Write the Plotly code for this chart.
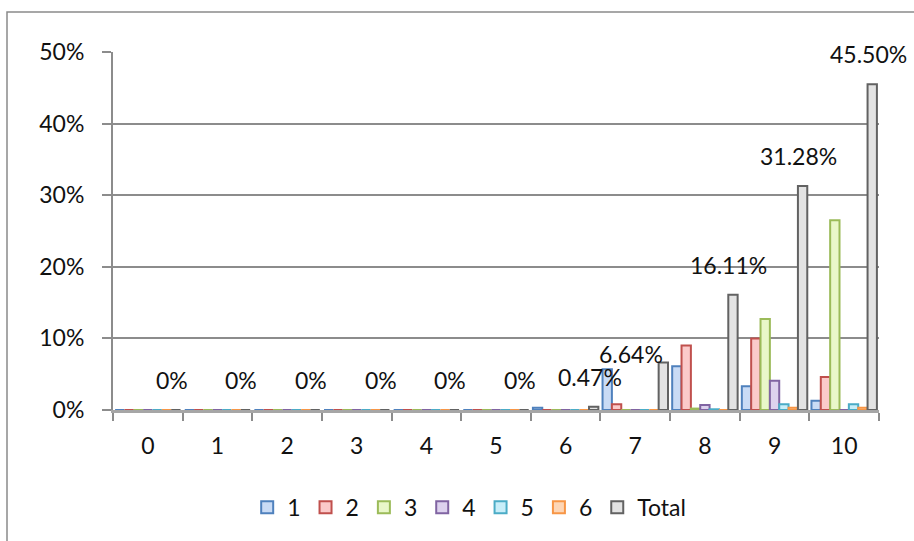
import plotly.graph_objects as go

# Score categories on the x axis
categories = ["0", "1", "2", "3", "4", "5", "6", "7", "8", "9", "10"]

# Share of responses (%) per group and score
group_1 = [0, 0, 0, 0, 0, 0, 0.3, 5.7, 6.1, 3.3, 1.3]
group_2 = [0, 0, 0, 0, 0, 0, 0, 0.8, 9.0, 10.0, 4.6]
group_3 = [0, 0, 0, 0, 0, 0, 0, 0, 0.2, 12.7, 26.5]
group_4 = [0, 0, 0, 0, 0, 0, 0, 0, 0.7, 4.1, 0]
group_5 = [0, 0, 0, 0, 0, 0, 0, 0, 0.1, 0.8, 0.8]
group_6 = [0, 0, 0, 0, 0, 0, 0, 0, 0, 0.3, 0.3]
total = [0, 0, 0, 0, 0, 0, 0.47, 6.64, 16.11, 31.28, 45.50]

series = [
    ("1", group_1, "#c9dbf5", "#4f81bd"),
    ("2", group_2, "#fbcaca", "#c0504d"),
    ("3", group_3, "#e9f7c9", "#9bbb59"),
    ("4", group_4, "#ddd2ee", "#8064a2"),
    ("5", group_5, "#c8eef9", "#4bacc6"),
    ("6", group_6, "#fdd6b6", "#f79646"),
    ("Total", total, "#e3e3e3", "#626262"),
]

FONT = "Lato, 'Open Sans', sans-serif"
FS = 23

fig = go.Figure()
for name, vals, fill, edge in series:
    fig.add_trace(go.Bar(
        x=categories, y=vals, name=name,
        marker=dict(color=fill, line=dict(color=edge, width=2)),
        hoverinfo="skip",
    ))

# Value labels above the Total bars
label_nudge = {"7": (-28, -22)}
for cat, v in zip(categories, total):
    txt = "0%" if v == 0 else f"{v:.2f}%"
    dx, dy = label_nudge.get(cat, (0, 0))
    fig.add_annotation(
        x=cat, y=v, xref="x", yref="y", text=txt, showarrow=False,
        xanchor="center", yanchor="bottom", xshift=24 + dx, yshift=14 + dy,
        font=dict(family=FONT, size=FS, color="#111111"),
    )

# Outer chart frame
L, R, T, B = 113, 879, 52, 410
pw, ph = R - L, B - T
fig.add_shape(
    type="rect", xref="paper", yref="paper",
    x0=(7 - L) / pw, x1=(960 - L) / pw,
    y0=(B - 600) / ph, y1=(B - 12) / ph,
    line=dict(color="#8a8a8a", width=1.5), fillcolor="rgba(0,0,0,0)",
    layer="below",
)

fig.update_layout(
    width=914, height=541,
    margin=dict(l=L, r=914 - R, t=T, b=541 - B),
    paper_bgcolor="white", plot_bgcolor="white",
    barmode="group", bargap=0.06, bargroupgap=0.0,
    font=dict(family=FONT, size=FS, color="#111111"),
    showlegend=True,
    legend=dict(
        orientation="h", x=0.465, xanchor="center", y=-0.272, yanchor="middle",
        font=dict(family=FONT, size=FS), itemwidth=30,
        tracegroupgap=0, traceorder="normal",
    ),
    xaxis=dict(
        type="category", range=[-0.5, 10.5], autorange=False,
        tickson="boundaries", ticks="outside", ticklen=8,
        tickcolor="#8c8c8c", tickwidth=2, showgrid=False,
        showline=True, linecolor="#a6a6a6", linewidth=3,
        ticklabelstandoff=13,
        tickfont=dict(family=FONT, size=FS),
    ),
    yaxis=dict(
        range=[0, 50], autorange=False, tickvals=[0, 10, 20, 30, 40, 50],
        ticktext=["0%", "10%", "20%", "30%", "40%", "50%"],
        ticks="outside", ticklen=9, tickcolor="#8c8c8c", tickwidth=2,
        showgrid=True, gridcolor="#8c8c8c", gridwidth=2,
        showline=True, linecolor="#8c8c8c", linewidth=2,
        zeroline=False, ticklabelstandoff=13,
        tickfont=dict(family=FONT, size=FS),
    ),
)

fig.write_html("out.html")
